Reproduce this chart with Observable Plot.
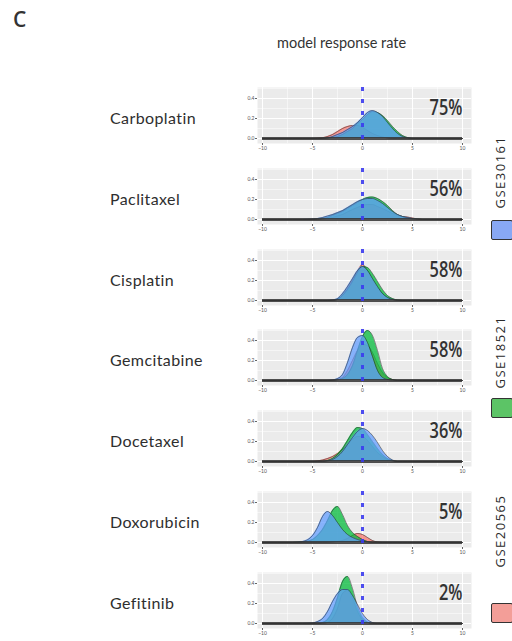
<!DOCTYPE html>
<html>
<head>
<meta charset="utf-8">
<script src="https://cdn.jsdelivr.net/npm/d3@7"></script>
<script src="https://cdn.jsdelivr.net/npm/@observablehq/plot@0.6"></script>
<style>
  html, body { margin: 0; padding: 0; background: #fff; }
  body { width: 512px; height: 641px; overflow: hidden; position: relative; font-family: Lato, "Open Sans", sans-serif; color: #333; }
  .abs { position: absolute; }
  .panel-label { position: absolute; left: 110px; font-size: 16px; letter-spacing: 0.4px; line-height: 1; transform: translateY(-50%); color: #2e2e2e; }
  .legend-key { position: absolute; left: 491px; width: 22px; height: 20px; border: 1.5px solid #333; border-radius: 2px; box-sizing: border-box; }
  .legend-text { position: absolute; left: 500px; font-size: 13px; letter-spacing: 1.5px; color: #2a2a2a; white-space: nowrap; transform: translate(-50%, -50%) rotate(-90deg); font-family: "Open Sans", sans-serif; }
</style>
</head>
<body>
<div class="abs" style="left:13px;top:5px;font-size:21px;font-weight:600;font-family:'Open Sans',sans-serif;">C</div>
<div class="abs" style="left:277px;top:34px;font-size:14.5px;">model response rate</div>
<div id="panels"></div>
<div id="legend"></div>
<script>
// Drugs, one density panel each, top to bottom
const drugs = ["Carboplatin", "Paclitaxel", "Cisplatin", "Gemcitabine", "Docetaxel", "Doxorubicin", "Gefitinib"];
// Model response rate per drug (%)
const responseRates = [75, 56, 58, 58, 36, 5, 2];

// Cohorts and their fill colours
const cohorts = ["GSE30161", "GSE18521", "GSE20565"];
const cohortColors = ["#619CFF", "#00BA38", "#F8766D"];
const legendColors = ["#88a8f4", "#5cc466", "#f39e98"];

// Predicted-response grid (x) shared by all density curves
const gridX = [-10, -7, -6, -5, -4.5, -4, -3.5, -3, -2.5, -2, -1.5, -1, -0.5, 0, 0.5, 1, 1.5, 2, 2.5, 3, 3.5, 4, 4.5, 5, 6, 10];

// Density of predicted response, one row per drug, for GSE30161
const densGSE30161 = [
  [0,0,0,0,0,0,0.005,0.02,0.04,0.06,0.09,0.12,0.16,0.21,0.26,0.28,0.26,0.22,0.16,0.10,0.05,0.02,0.005,0,0,0],
  [0,0,0,0.005,0.01,0.02,0.035,0.05,0.07,0.09,0.12,0.15,0.18,0.20,0.21,0.21,0.19,0.16,0.12,0.08,0.05,0.03,0.02,0.01,0,0],
  [0,0,0,0,0,0,0,0.005,0.02,0.07,0.14,0.22,0.30,0.34,0.30,0.22,0.14,0.07,0.03,0.01,0,0,0,0,0,0],
  [0,0,0,0,0,0,0,0.005,0.02,0.06,0.18,0.33,0.43,0.45,0.38,0.24,0.10,0.03,0.01,0,0,0,0,0,0,0],
  [0,0,0,0,0,0,0.005,0.02,0.05,0.10,0.17,0.24,0.30,0.33,0.31,0.26,0.19,0.11,0.05,0.015,0,0,0,0,0,0],
  [0,0,0.01,0.07,0.15,0.26,0.31,0.27,0.20,0.13,0.08,0.05,0.03,0.015,0.005,0,0,0,0,0,0,0,0,0,0,0],
  [0,0,0,0.005,0.02,0.05,0.12,0.22,0.30,0.34,0.34,0.28,0.19,0.10,0.04,0.01,0,0,0,0,0,0,0,0,0,0]
];
// ... for GSE18521
const densGSE18521 = [
  [0,0,0,0,0,0,0.005,0.01,0.02,0.04,0.07,0.10,0.15,0.19,0.24,0.27,0.26,0.23,0.18,0.12,0.07,0.03,0.01,0,0,0],
  [0,0,0,0,0.005,0.01,0.02,0.04,0.06,0.08,0.11,0.14,0.17,0.20,0.22,0.225,0.21,0.18,0.14,0.09,0.05,0.03,0.015,0.005,0,0],
  [0,0,0,0,0,0,0,0,0.01,0.05,0.11,0.19,0.28,0.34,0.33,0.27,0.19,0.11,0.05,0.02,0.005,0,0,0,0,0],
  [0,0,0,0,0,0,0,0,0.005,0.02,0.06,0.15,0.30,0.44,0.50,0.45,0.30,0.12,0.04,0.01,0,0,0,0,0,0],
  [0,0,0,0,0,0,0.01,0.03,0.07,0.13,0.21,0.29,0.34,0.33,0.27,0.20,0.13,0.07,0.03,0.01,0,0,0,0,0,0],
  [0,0,0.005,0.03,0.07,0.13,0.22,0.32,0.36,0.28,0.17,0.10,0.06,0.03,0.01,0,0,0,0,0,0,0,0,0,0,0],
  [0,0,0,0,0,0.01,0.04,0.12,0.26,0.42,0.47,0.35,0.17,0.06,0.015,0,0,0,0,0,0,0,0,0,0,0]
];
// ... for GSE20565
const densGSE20565 = [
  [0,0,0,0,0.003,0.008,0.02,0.04,0.07,0.10,0.12,0.13,0.13,0.11,0.08,0.05,0.03,0.015,0.005,0,0,0,0,0,0,0],
  [0,0,0,0,0,0.005,0.01,0.02,0.035,0.05,0.075,0.10,0.12,0.14,0.15,0.15,0.13,0.11,0.085,0.06,0.045,0.03,0.025,0.015,0,0],
  [0,0,0,0,0,0,0,0,0.01,0.05,0.12,0.20,0.29,0.36,0.30,0.21,0.13,0.07,0.03,0.01,0,0,0,0,0,0],
  [0,0,0,0,0,0,0,0,0.01,0.03,0.10,0.20,0.30,0.36,0.35,0.28,0.17,0.08,0.03,0.01,0,0,0,0,0,0],
  [0,0,0,0,0.005,0.015,0.03,0.05,0.08,0.12,0.17,0.22,0.25,0.25,0.21,0.15,0.09,0.05,0.02,0.005,0,0,0,0,0,0],
  [0,0,0,0,0,0,0,0.005,0.01,0.02,0.04,0.07,0.09,0.08,0.05,0.02,0.005,0,0,0,0,0,0,0,0,0],
  [0,0,0,0,0,0,0.01,0.05,0.15,0.30,0.33,0.25,0.12,0.04,0.01,0,0,0,0,0,0,0,0,0,0,0]
];

// Axis ticks
const xTicks = [-10, -5, 0, 5, 10];
const xMinor = [-7.5, -2.5, 2.5, 7.5];
const yTicks = [0, 0.2, 0.4];
const yMinor = [0.1, 0.3, 0.5];

const densities = [densGSE30161, densGSE18521, densGSE20565];

const panels = document.getElementById("panels");
const firstTop = 87, pitch = 80.8;

drugs.forEach((drug, i) => {
  const top = firstTop + i * pitch;

  const label = document.createElement("div");
  label.className = "panel-label";
  label.style.top = (top + 31) + "px";
  label.textContent = drug;
  panels.appendChild(label);

  // curves drawn red first, then green, then blue on top
  const order = [2, 1, 0];
  const curveMarks = [];
  order.forEach(k => {
    const rows = gridX.map((x, j) => ({x, y: densities[k][i][j]}));
    curveMarks.push(Plot.areaY(rows, {x: "x", y: "y", fill: cohortColors[k], fillOpacity: 0.74, curve: "monotone-x"}));
    curveMarks.push(Plot.lineY(rows, {x: "x", y: "y", stroke: "#1a1a1a", strokeWidth: 0.9, strokeOpacity: 0.55, curve: "monotone-x"}));
  });

  const chart = Plot.plot({
    width: 245,
    height: 66,
    marginLeft: 27,
    marginRight: 4,
    marginTop: 0,
    marginBottom: 10,
    x: {domain: [-10.5, 10.9], axis: null},
    y: {domain: [-0.05, 0.51], axis: null},
    style: {background: "transparent", fontFamily: "Lato, sans-serif"},
    marks: [
      Plot.frame({fill: "#ebebeb", stroke: null}),
      Plot.gridX(xMinor, {stroke: "#fff", strokeOpacity: 1, strokeWidth: 0.5}),
      Plot.gridY(yMinor, {stroke: "#fff", strokeOpacity: 1, strokeWidth: 0.5}),
      Plot.gridX(xTicks, {stroke: "#fff", strokeOpacity: 1, strokeWidth: 1}),
      Plot.gridY(yTicks, {stroke: "#fff", strokeOpacity: 1, strokeWidth: 1}),
      Plot.axisX(xTicks, {label: null, tickSize: 2, tickPadding: 1, fontSize: 5, stroke: "#666", fill: "#555"}),
      Plot.axisY(yTicks, {label: null, tickSize: 2, tickPadding: 1, fontSize: 5, stroke: "#666", fill: "#555", tickFormat: d3.format(".1f")}),
      ...curveMarks,
      Plot.ruleY([0], {x1: -10, x2: 10, stroke: "#333", strokeWidth: 3.2, strokeOpacity: 0.85}),
      Plot.ruleX([0], {stroke: "#3b3bee", strokeWidth: 3, strokeDasharray: "4 8", strokeOpacity: 0.9}),
      Plot.text([responseRates[i]], {
        text: d => d + "%",
        frameAnchor: "top-right",
        textAnchor: "end",
        lineAnchor: "middle",
        dx: -9,
        dy: 21,
        fontSize: 21,
        fontWeight: 600,
        fontFamily: "'Open Sans', sans-serif",
        fill: "#333",
        className: "rate"
      })
    ]
  });
  // condense the rate label horizontally around its right-hand anchor
  d3.select(chart).selectAll(".rate text").each(function () {
    const t = this.getAttribute("transform") || "";
    this.setAttribute("transform", t + " scale(0.78,1)");
  });
  chart.style.position = "absolute";
  chart.style.left = "230px";
  chart.style.top = top + "px";
  panels.appendChild(chart);
});

// Legend: one coloured key per cohort with its rotated name
const legend = document.getElementById("legend");
const keyTops = [220, 398, 603];
const textCenters = [172, 352, 531];
cohorts.forEach((name, k) => {
  const key = document.createElement("div");
  key.className = "legend-key";
  key.style.top = keyTops[k] + "px";
  key.style.background = legendColors[k];
  legend.appendChild(key);
  const t = document.createElement("div");
  t.className = "legend-text";
  t.style.top = textCenters[k] + "px";
  t.textContent = name;
  legend.appendChild(t);
});
</script>
</body>
</html>
